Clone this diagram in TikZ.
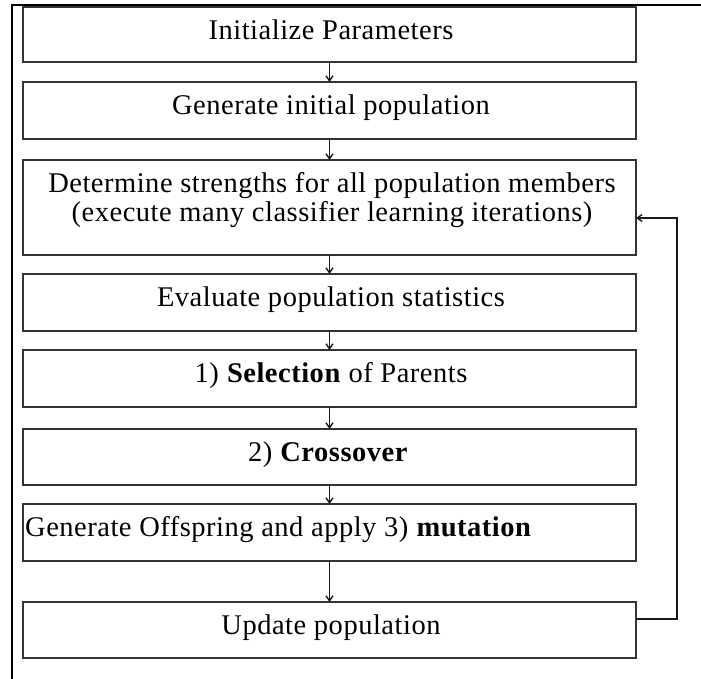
\documentclass[tikz,border=0pt]{standalone}
\usepackage{fontspec}
\setmainfont{Liberation Serif}[LetterSpace=1.8]
\usetikzlibrary{arrows.meta}
\begin{document}
\begin{tikzpicture}[x=1pt,y=-1pt,
  box/.style={draw=black!80,line width=1.5pt,minimum width=613pt,inner sep=0pt,outer sep=0pt},
  lbl/.style={anchor=base,inner sep=0pt,font=\fontsize{28.5}{31}\selectfont},
  flow/.style={draw=black!90,line width=1.4pt,-{Straight Barb[length=5pt,width=7pt]}},
  frame/.style={draw=black,line width=2.2pt}]
\useasboundingbox (0,0) rectangle (701,679);

% outer frame (top and left rule)
\draw[frame] (12,679) -- (12,5) -- (701,5);

% process boxes
\node[box,minimum height=55pt] (b1) at (329.5,34.5) {};
\node[box,minimum height=57pt] (b2) at (329.5,110.5) {};
\node[box,minimum height=95pt] (b3) at (329.5,207.5) {};
\node[box,minimum height=57pt] (b4) at (329.5,302.5) {};
\node[box,minimum height=57pt] (b5) at (329.5,378.5) {};
\node[box,minimum height=56pt] (b6) at (329.5,457) {};
\node[box,minimum height=57pt] (b7) at (329.5,532.5) {};
\node[box,minimum height=56pt] (b8) at (329.5,630) {};

% box texts
\node[lbl] (t1) at (331,39.5) {Initialize Parameters};
\node[lbl] (t2) at (331,114.5) {Generate initial population};
\node[lbl] (t3a) at (332,193) {Determine strengths for all population members};
\node[lbl] (t3b) at (332,222) {(execute many classifier learning iterations)};
\node[lbl] (t4) at (331,306.5) {Evaluate population statistics};
\node[lbl] (t5) at (331,382.5) {1) \textbf{Selection} of Parents};
\node[lbl] (t6) at (328,461.5) {2) \textbf{Crossover}};
\node[lbl,anchor=base west] (t7) at (25,536.5) {Generate Offspring and apply 3) \textbf{mutation}};
\node[lbl] (t8) at (331,634.5) {Update population};

% flow arrows
\draw[flow] (b1.south) -- (b2.north);
\draw[flow] (b2.south) -- (b3.north);
\draw[flow] (b3.south) -- (b4.north);
\draw[flow] (b4.south) -- (b5.north);
\draw[flow] (b5.south) -- (b6.north);
\draw[flow] (b6.south) -- (b7.north);
\draw[flow] (b7.south) -- (b8.north);

% loop back to the strength evaluation
\draw[flow] ([yshift=11pt]b8.east) -- ++(41,0) |- ([yshift=-10.5pt]b3.east);
\end{tikzpicture}
\end{document}
